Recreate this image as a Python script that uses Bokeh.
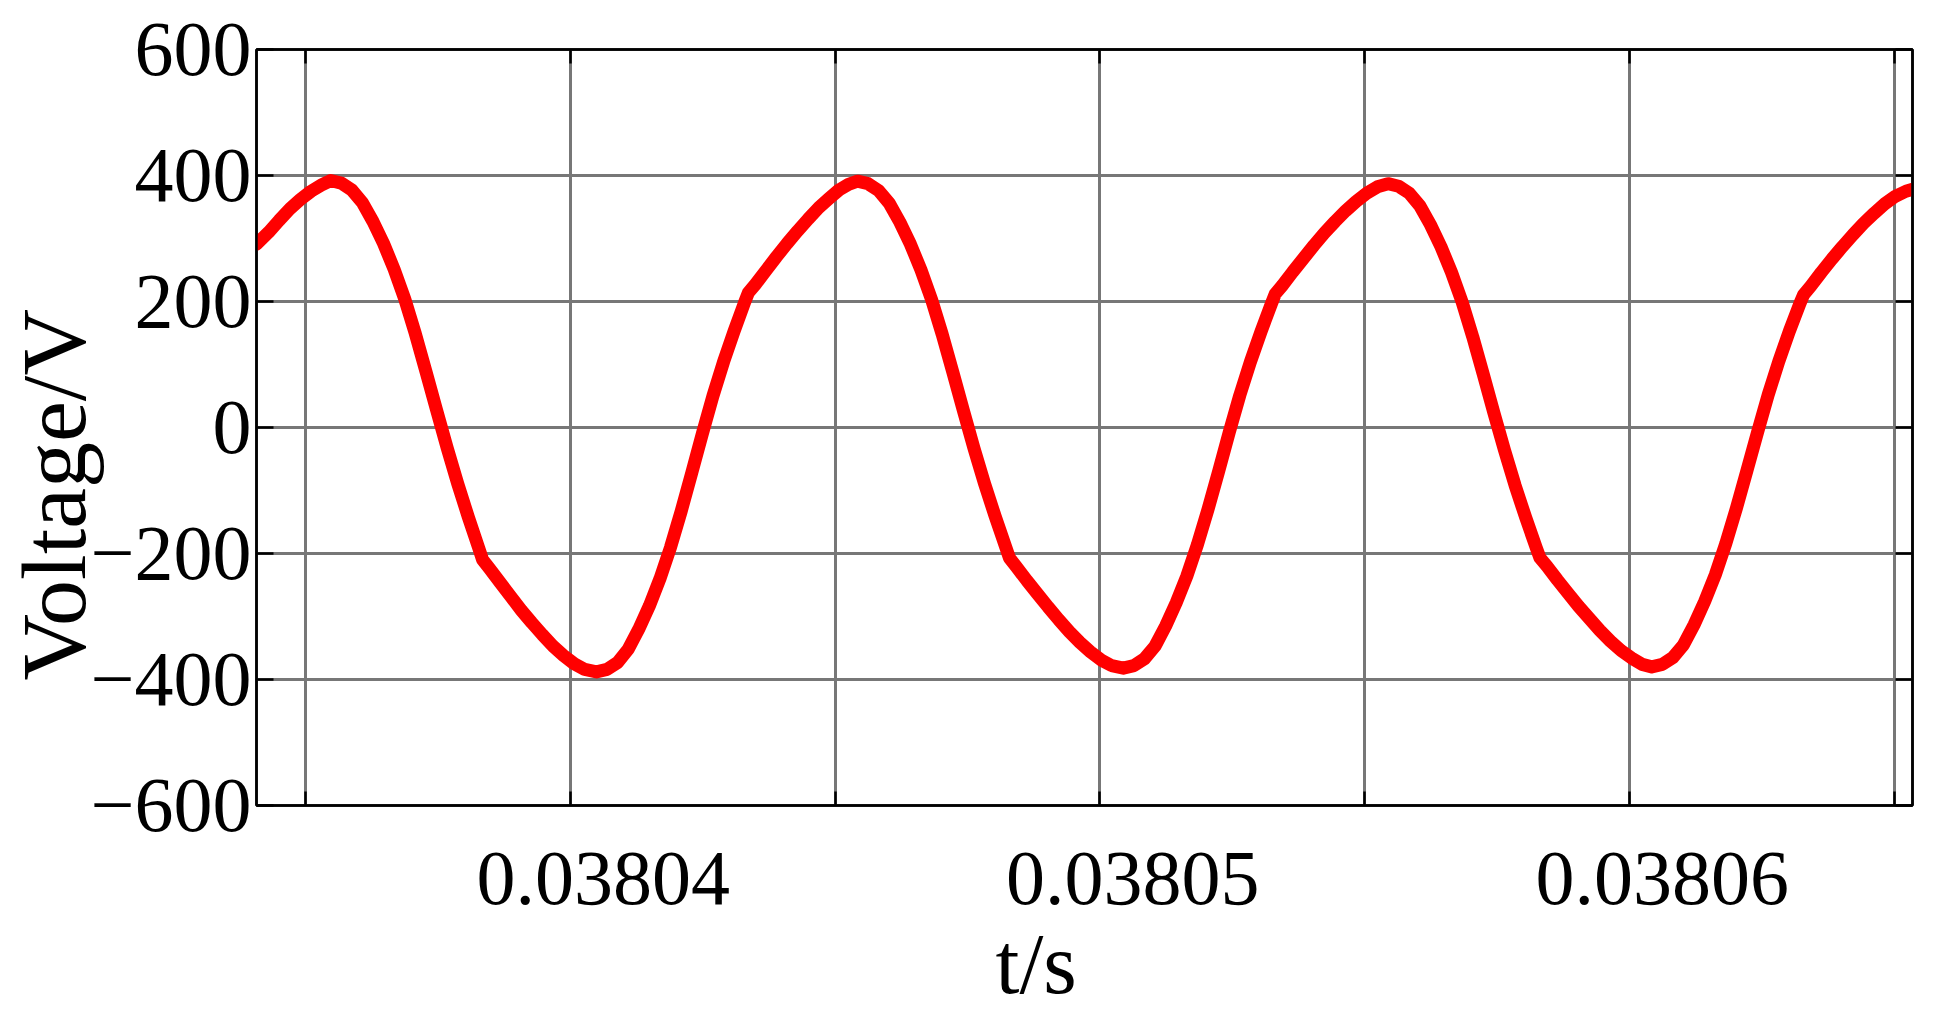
from bokeh.plotting import figure
from bokeh.models import (FixedTicker, LinearAxis, Range1d, Grid, Title,
                          PrintfTickFormatter)
from bokeh.embed import file_html
from bokeh.resources import INLINE

# ---------------- data ----------------
T0 = 0.03804  # s; the time offsets below are in microseconds from T0

t_us = [
    -5.93, -5.70, -5.50, -5.30, -5.10, -4.90, -4.70, -4.53,
    -4.33, -4.13, -3.93, -3.73, -3.53, -3.33, -3.13, -2.93, -2.73, -2.53,
    -2.33, -2.13, -1.93, -1.73, -1.66, -1.53, -1.33, -1.13, -0.93, -0.73,
    -0.53, -0.33, -0.13, 0.07, 0.27, 0.49,
    0.69, 0.89, 1.09, 1.29, 1.49, 1.69, 1.89, 2.09, 2.29, 2.49,
    2.69, 2.89, 3.09, 3.29, 3.36, 3.49, 3.69, 3.89, 4.09, 4.29,
    4.49, 4.69, 4.89, 5.07, 5.25, 5.42,
    5.62, 5.82, 6.02, 6.22, 6.42, 6.62, 6.82, 7.02, 7.22, 7.42,
    7.62, 7.82, 8.02, 8.22, 8.29, 8.42, 8.62, 8.82, 9.02, 9.22,
    9.42, 9.62, 9.82, 10.02, 10.22, 10.44,
    10.64, 10.84, 11.04, 11.24, 11.44, 11.64, 11.84, 12.04, 12.24, 12.44,
    12.64, 12.84, 13.04, 13.24, 13.31, 13.44, 13.64, 13.84, 14.04, 14.24,
    14.44, 14.64, 14.84, 15.04, 15.24, 15.44,
    15.64, 15.84, 16.04, 16.24, 16.44, 16.64, 16.84, 17.04, 17.24, 17.44,
    17.64, 17.84, 18.04, 18.24, 18.31, 18.44, 18.64, 18.84, 19.04, 19.24,
    19.44, 19.64, 19.84, 20.04, 20.24, 20.42,
    20.62, 20.82, 21.02, 21.22, 21.42, 21.62, 21.82, 22.02, 22.22, 22.42,
    22.62, 22.82, 23.02, 23.22, 23.29, 23.42, 23.62, 23.82, 24.02, 24.22,
    24.42, 24.62, 24.82, 25.02, 25.22, 25.38,
]

voltage = [
    291, 310, 329, 347, 362, 375, 385, 392,
    388, 377, 357, 327, 292, 251, 204, 149, 89, 28,
    -32, -89, -142, -192, -210, -224, -246, -268, -290, -310,
    -329, -347, -362, -375, -384, -388,
    -384, -373, -352, -320, -283, -240, -190, -133, -72, -10,
    50, 104, 153, 199, 214, 227, 249, 271, 292, 312,
    331, 349, 364, 377, 386, 391,
    387, 376, 356, 326, 291, 250, 203, 148, 88, 27,
    -33, -89, -141, -190, -207, -221, -243, -264, -285, -305,
    -324, -341, -356, -369, -378, -382,
    -378, -367, -347, -315, -278, -236, -186, -130, -70, -8,
    51, 104, 152, 197, 212, 225, 247, 268, 289, 309,
    327, 344, 359, 372, 382, 387,
    383, 372, 352, 322, 287, 246, 199, 144, 84, 23,
    -36, -92, -143, -191, -207, -220, -242, -263, -284, -303,
    -322, -339, -354, -366, -376, -380,
    -376, -365, -345, -313, -276, -234, -184, -128, -68, -7,
    52, 105, 153, 197, 211, 224, 246, 267, 287, 306,
    324, 340, 355, 367, 375, 379,
]

y_ticks = [-600, -400, -200, 0, 200, 400, 600]
y_tick_labels = ["\u2212600", "\u2212400", "\u2212200", "0", "200", "400", "600"]
x_grid_us = [-5, 0, 5, 10, 15, 20, 25]
x_tick_values = [0.03804, 0.03805, 0.03806]
x_tick_labels = ["0.03804", "0.03805", "0.03806"]
x_title = "t/s"
y_title = "Voltage/V"

# ---------------- layout / style constants ----------------
FONT = "Liberation Serif"
TICK_FONT_SIZE = "78px"
X_TITLE_FONT_SIZE = "86px"
Y_TITLE_FONT_SIZE = "92px"
X_START_US, X_END_US = -5.93, 25.345
LABEL_SHIFT_S = 0.62e-6      # tick labels sit slightly right of their ticks

t = [T0 + u * 1e-6 for u in t_us]
x_grid = [T0 + u * 1e-6 for u in x_grid_us]
x_label_ticks = [v + LABEL_SHIFT_S for v in x_tick_values]

p = figure(width=1930, height=1026, output_backend="svg", toolbar_location=None,
           x_range=Range1d(T0 + X_START_US * 1e-6, T0 + X_END_US * 1e-6),
           y_range=Range1d(-600, 600),
           x_axis_type=None, y_axis_type=None,
           min_border_left=256, min_border_right=18,
           min_border_top=49, min_border_bottom=221)
p.outline_line_color = "black"
p.outline_line_width = 2.5
p.background_fill_color = "white"
p.border_fill_color = "white"

# grid
p.add_layout(Grid(dimension=0, ticker=FixedTicker(ticks=x_grid),
                  grid_line_color="#777777", grid_line_width=3))
p.add_layout(Grid(dimension=1, ticker=FixedTicker(ticks=y_ticks),
                  grid_line_color="#777777", grid_line_width=3))

# bottom axis
bottom = LinearAxis(
    ticker=FixedTicker(ticks=x_label_ticks, minor_ticks=x_grid),
    formatter=PrintfTickFormatter(format="%.5f"),
    major_label_overrides={k: lab for k, lab in zip(x_label_ticks, x_tick_labels)},
    axis_line_color="black", axis_line_width=2.5,
    major_tick_line_color=None,
    minor_tick_line_color="black", minor_tick_line_width=2.5,
    minor_tick_in=14, minor_tick_out=0,
    major_label_standoff=41,
    major_label_text_font=FONT, major_label_text_font_size=TICK_FONT_SIZE,
    major_label_text_color="black")
p.add_layout(bottom, "below")

# left axis
left = LinearAxis(
    ticker=FixedTicker(ticks=y_ticks),
    major_label_overrides={k: lab for k, lab in zip(y_ticks, y_tick_labels)},
    axis_line_color="black", axis_line_width=2.5,
    major_tick_line_color="black", major_tick_line_width=2.5,
    major_tick_in=17, major_tick_out=0,
    minor_tick_line_color=None,
    major_label_standoff=5,
    major_label_text_font=FONT, major_label_text_font_size=TICK_FONT_SIZE,
    major_label_text_color="black")
p.add_layout(left, "left")

# top and right axes: ticks only
top = LinearAxis(
    ticker=FixedTicker(ticks=x_grid),
    axis_line_color="black", axis_line_width=2.5,
    major_tick_line_color="black", major_tick_line_width=2.5,
    major_tick_in=14, major_tick_out=0, minor_tick_line_color=None,
    major_label_standoff=0, major_label_text_font_size="0px")
p.add_layout(top, "above")
right = LinearAxis(
    ticker=FixedTicker(ticks=y_ticks),
    axis_line_color="black", axis_line_width=2.5,
    major_tick_line_color="black", major_tick_line_width=2.5,
    major_tick_in=17, major_tick_out=0, minor_tick_line_color=None,
    major_label_standoff=0, major_label_text_font_size="0px")
p.add_layout(right, "right")

# waveform
p.line(x=t, y=voltage, line_color="#ff0000", line_width=13,
       line_cap="round", line_join="round")

# axis titles
p.add_layout(Title(text=y_title, align="left", offset=125, standoff=-35,
                   text_font=FONT, text_font_size=Y_TITLE_FONT_SIZE,
                   text_font_style="normal", text_color="black"), "left")
p.add_layout(Title(text=x_title, align="left", offset=739, standoff=14,
                   vertical_align="bottom",
                   text_font=FONT, text_font_size=X_TITLE_FONT_SIZE,
                   text_font_style="normal", text_color="black"), "below")

open("out.html", "w").write(file_html(p, INLINE))
